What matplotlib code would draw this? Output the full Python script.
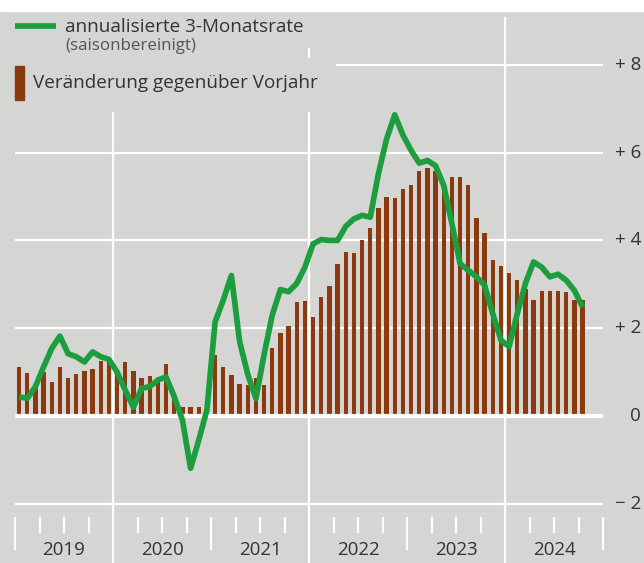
import numpy as np
import matplotlib.pyplot as plt
from matplotlib.patches import Rectangle

plt.rcParams['font.family'] = ['Open Sans', 'DejaVu Sans']

# Monthly data, Jan 2019 - Oct 2024
years = ['2019', '2020', '2021', '2022', '2023', '2024']
yoy = [1.12, 0.99, 0.70, 1.00, 0.78, 1.12, 0.87, 0.95, 1.02, 1.06, 1.25, 1.27,
       1.08, 1.22, 1.02, 0.86, 0.90, 0.82, 1.18, 0.40, 0.20, 0.20, 0.20, 0.25,
       1.39, 1.12, 0.93, 0.74, 0.70, 0.86, 0.70, 1.56, 1.88, 2.05, 2.60, 2.62,
       2.26, 2.71, 2.95, 3.47, 3.73, 3.71, 4.02, 4.29, 4.74, 5.00, 4.97, 5.17,
       5.27, 5.59, 5.64, 5.57, 5.30, 5.45, 5.45, 5.27, 4.52, 4.17, 3.55, 3.42,
       3.26, 3.09, 2.90, 2.65, 2.85, 2.85, 2.85, 2.82, 2.65, 2.65]
rate3m = [0.44, 0.40, 0.67, 1.12, 1.54, 1.82, 1.42, 1.35, 1.23, 1.46, 1.35, 1.29,
          1.00, 0.59, 0.20, 0.63, 0.67, 0.82, 0.89, 0.44, -0.09, -1.19, -0.55, 0.14,
          2.14, 2.64, 3.20, 1.70, 0.95, 0.40, 1.40, 2.30, 2.88, 2.83, 3.02, 3.39,
          3.92, 4.02, 4.00, 4.00, 4.32, 4.49, 4.57, 4.53, 5.52, 6.31, 6.86, 6.40,
          6.05, 5.76, 5.82, 5.70, 5.25, 4.38, 3.47, 3.32, 3.17, 2.98, 2.33, 1.73,
          1.58, 2.33, 3.02, 3.51, 3.39, 3.17, 3.23, 3.09, 2.86, 2.48]
y_ticks = [-2, 0, 2, 4, 6, 8]
y_labels = ['\u2212 2', '0', '+ 2', '+ 4', '+ 6', '+ 8']

bg = '#d5d5d3'
green = '#1c9e3e'
brown = '#8a3a0e'
txt = '#333333'

# pixel helpers (layout only)
PX_M = 8.1667   # pixels per month
PX_U = 43.9     # pixels per unit
def xd(px):
    return (px - 15) / PX_M
def yd(py):
    return (416 - py) / PX_U

fig = plt.figure(figsize=(6.44, 5.63), dpi=100)
fig.patch.set_facecolor(bg)
ax = fig.add_axes([0, 0, 1, 1])
ax.set_facecolor(bg)
ax.set_xlim(xd(0), xd(644))
ax.set_ylim(yd(563), yd(0))
ax.axis('off')

# white strip at the top
ax.axhspan(yd(11), yd(0), color='white', zorder=0)

# grid
n_months = 12 * len(years)
for t in y_ticks:
    if t == 0:
        continue
    start = xd(336) if t == 8 else 0
    ax.hlines(t, start, n_months, color='white', lw=1.6, zorder=1)
ax.vlines([12, 36], yd(563), yd(112), color='white', lw=1.6, zorder=1)
ax.vlines(36, yd(58), yd(48), color='white', lw=1.6, zorder=1)
ax.vlines(60, yd(563), yd(17), color='white', lw=1.6, zorder=1)

# x ticks
for i in range(len(years)):
    for q in (3, 6, 9):
        ax.vlines(12 * i + q, yd(533), yd(517), color='white', lw=1.6)
for m in range(0, n_months + 1, 24):
    ax.vlines(m, yd(550), yd(517), color='white', lw=1.6)
for i, yr in enumerate(years):
    ax.text(12 * i + 6, yd(550), yr, ha='center', va='center',
            fontsize=13.5, color=txt)

# y labels on the right
for t, lab in zip(y_ticks, y_labels):
    ax.text(xd(641), t, lab, ha='right', va='center', fontsize=13.5, color=txt)

# data
x = np.arange(len(yoy)) + 0.5
ax.bar(x, yoy, width=0.52, color=brown, zorder=2)
ax.hlines(0, 0, n_months, color='white', lw=3, zorder=2.5)
ax.plot(x, rate3m, color=green, lw=4.1, solid_joinstyle='round',
        solid_capstyle='butt', zorder=3)

# legend
ax.plot([xd(15), xd(56)], [yd(26), yd(26)], color=green, lw=4.1,
        solid_capstyle='butt')
ax.text(xd(65), yd(27), 'annualisierte 3-Monatsrate', ha='left', va='center',
        fontsize=13.6, color=txt)
ax.text(xd(65), yd(46), '(saisonbereinigt)', ha='left', va='center',
        fontsize=12.2, color='#555555')
ax.add_patch(Rectangle((xd(15), yd(100)), xd(24) - xd(15), yd(66) - yd(100),
                       color=brown))
ax.text(xd(33), yd(83), 'Veränderung gegenüber Vorjahr', ha='left',
        va='center', fontsize=13.6, color=txt)

fig.savefig('out.png', dpi=100, facecolor=bg)
